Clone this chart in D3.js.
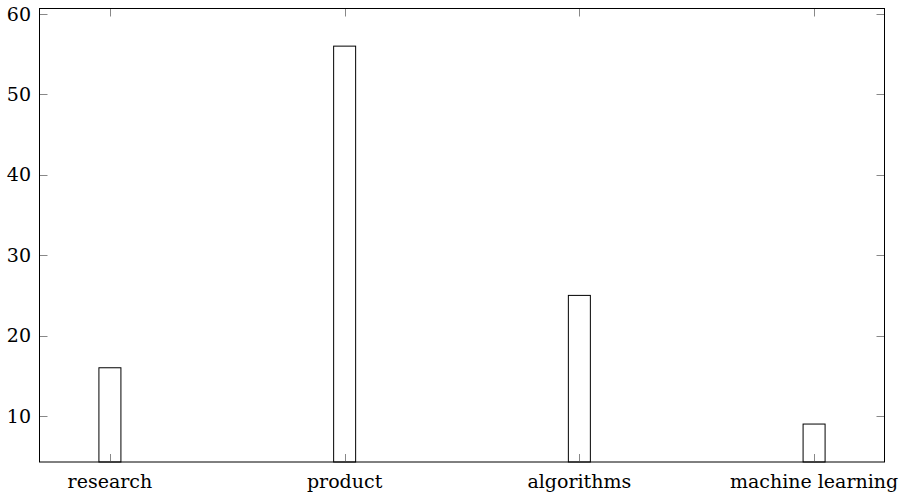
<!DOCTYPE html>
<html>
<head>
<meta charset="utf-8">
<script src="https://cdn.jsdelivr.net/npm/d3@7"></script>
<style>
  body { margin: 0; background: #fff; }
  text { font-family: "DejaVu Serif", "Liberation Serif", serif; font-size: 19px; fill: #000; }
</style>
</head>
<body>
<svg id="chart" width="907" height="495"></svg>
<script>
var categories = ['research', 'product', 'algorithms', 'machine learning'];
var counts = [16, 56, 25, 9];
var yTicks = [10, 20, 30, 40, 50, 60];

var svg = d3.select('#chart');
var plotLeft = 39.5, plotRight = 884.5, plotTop = 8.5, plotBottom = 462;
var tickLen = 8;

var x = d3.scaleLinear().domain([-0.3, 3.3]).range([plotLeft, plotRight]);
var y = d3.scaleLinear().domain([4.28, 60.68]).range([plotBottom, plotTop]);
var barW = 22;

// bars
svg.append('g').selectAll('rect').data(counts).enter().append('rect')
  .attr('x', function(d, i) { return x(i) - barW / 2; })
  .attr('y', function(d) { return y(d); })
  .attr('width', barW)
  .attr('height', function(d) { return plotBottom - y(d); })
  .attr('fill', '#fff')
  .attr('stroke', '#000')
  .attr('stroke-width', 1);

// ticks, inside on all four sides
var ticks = svg.append('g').attr('stroke', '#888').attr('stroke-width', 1);
yTicks.forEach(function(t) {
  var yy = Math.round(y(t)) + 0.5;
  ticks.append('line').attr('x1', plotLeft).attr('x2', plotLeft + tickLen).attr('y1', yy).attr('y2', yy);
  ticks.append('line').attr('x1', plotRight).attr('x2', plotRight - tickLen).attr('y1', yy).attr('y2', yy);
});
categories.forEach(function(c, i) {
  var xx = Math.round(x(i)) + 0.5;
  ticks.append('line').attr('x1', xx).attr('x2', xx).attr('y1', plotBottom).attr('y2', plotBottom - tickLen);
  ticks.append('line').attr('x1', xx).attr('x2', xx).attr('y1', plotTop).attr('y2', plotTop + tickLen);
});

// frame
svg.append('rect')
  .attr('x', plotLeft).attr('y', plotTop)
  .attr('width', plotRight - plotLeft).attr('height', plotBottom - plotTop)
  .attr('fill', 'none').attr('stroke', '#000').attr('stroke-width', 1);

// labels
svg.append('g').selectAll('text').data(yTicks).enter().append('text')
  .attr('x', 31)
  .attr('y', function(d) { return y(d); })
  .attr('dy', '0.35em')
  .attr('text-anchor', 'end')
  .text(function(d) { return d; });

svg.append('g').selectAll('text').data(categories).enter().append('text')
  .attr('x', function(d, i) { return x(i); })
  .attr('y', 488)
  .attr('text-anchor', 'middle')
  .text(function(d) { return d; });
</script>
</body>
</html>
